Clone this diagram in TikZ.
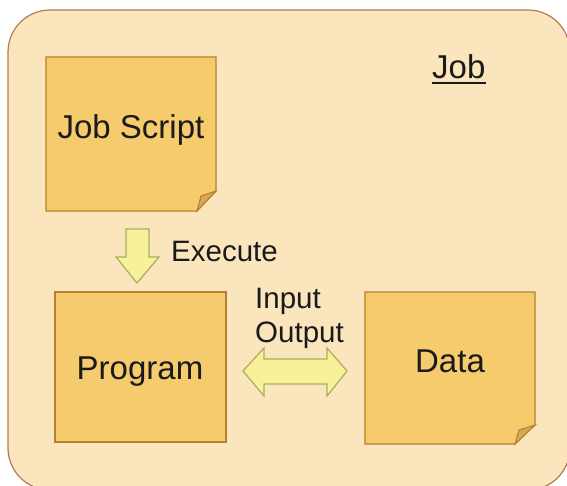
\documentclass[tikz,border=0pt]{standalone}
\usepackage{fontspec}
\setmainfont{Liberation Sans}
\definecolor{jobfill}{HTML}{FAE5BC}
\definecolor{jobline}{HTML}{B07A55}
\definecolor{notefill}{HTML}{F6CB6D}
\definecolor{noteline}{HTML}{B5802F}
\definecolor{foldfill}{HTML}{D8A75A}
\definecolor{arrfill}{HTML}{F8F19A}
\definecolor{arrline}{HTML}{A8AF62}
\definecolor{txt}{HTML}{1A1A1A}
\tikzset{
  notebox/.style={fill=notefill,draw=noteline,line width=1.2pt,line join=miter},
  foldtri/.style={fill=foldfill,draw=noteline,line width=1pt},
  bigarrow/.style={fill=arrfill,draw=arrline,line width=1.2pt,line join=miter},
  boxtext/.style={font=\fontsize{33}{37}\selectfont,text=txt,inner sep=0pt},
  labeltext/.style={font=\fontsize{29.5}{33}\selectfont,text=txt,inner sep=0pt},
}
\begin{document}
\begin{tikzpicture}[x=1pt,y=-1pt]
\useasboundingbox (0,0) rectangle (567,486);
% outer job frame
\draw[fill=jobfill,draw=jobline,line width=1.2pt,rounded corners=42pt] (8,10) rectangle (570,490);
\node[font=\fontsize{33}{37}\selectfont,text=txt,inner sep=0pt,anchor=base west] (joblbl) at (432,79) {Job};
\draw[line width=1.5pt,draw=txt] ([yshift=-4pt]joblbl.base west) -- ([yshift=-4pt]joblbl.base east);
% Job Script note
\draw[notebox] (46,57) -- (216,57) -- (216,191) -- (197,211) -- (46,211) -- cycle;
\draw[foldtri] (216,191) -- (197,211) -- (201,196) -- cycle;
\node[boxtext] (script) at (131,130) {Job Script};
% Program box
\draw[notebox] (55,292) rectangle (226,442);
\node[boxtext] (program) at (140,372) {Program};
% Data note
\draw[notebox] (365,292) -- (535,292) -- (535,425) -- (515,444) -- (365,444) -- cycle;
\draw[foldtri] (535,425) -- (515,444) -- (519,430) -- cycle;
\node[boxtext] (data) at (450,361) {Data};
% Execute arrow
\draw[bigarrow] (126,229) -- (149,229) -- (149,257) -- (159,257) -- (137,283) -- (116,257) -- (126,257) -- cycle;
\node[labeltext,anchor=west] (exec) at (171,251) {Execute};
% Input/Output double arrow
\draw[bigarrow] (243,371) -- (264,348) -- (264,359) -- (327,359) -- (327,348) -- (347,371)
  -- (327,396) -- (327,384) -- (264,384) -- (264,396) -- cycle;
\node[labeltext,anchor=base west] (inlbl) at (255,308) {Input};
\node[labeltext,anchor=base west] (outlbl) at (255,342) {Output};
\end{tikzpicture}
\end{document}
